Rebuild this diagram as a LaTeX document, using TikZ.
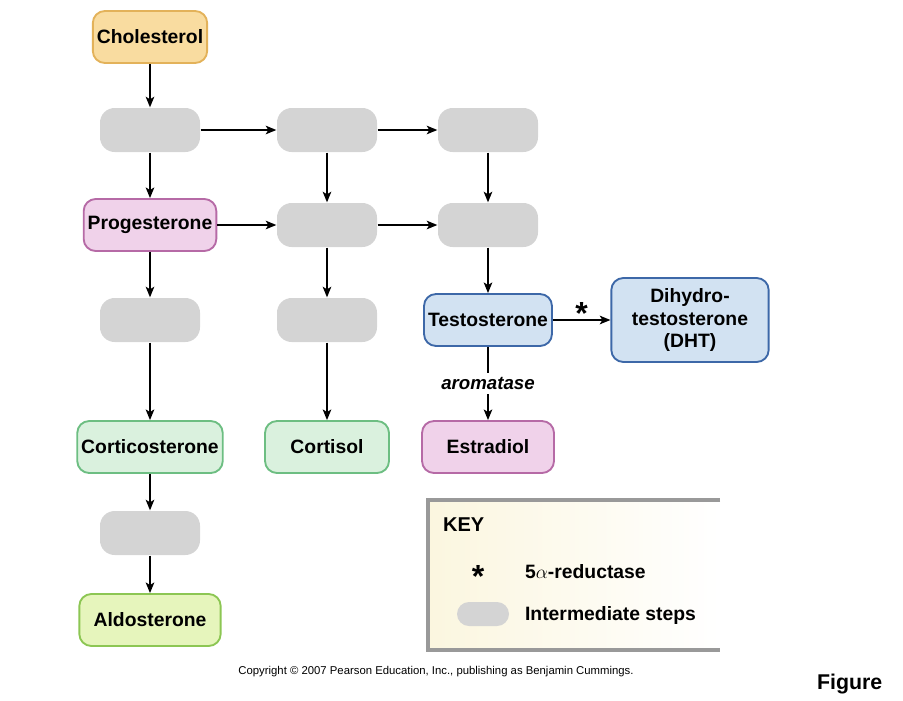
\documentclass[tikz,border=0pt]{standalone}
\usepackage{fontspec}
\setmainfont{Liberation Sans}
\usetikzlibrary{arrows.meta}
\definecolor{cholfill}{HTML}{F9DCA0}\definecolor{choldraw}{HTML}{E3B25A}
\definecolor{pinkfill}{HTML}{F0D2EA}\definecolor{pinkdraw}{HTML}{B66AA6}
\definecolor{bluefill}{HTML}{D2E2F2}\definecolor{bluedraw}{HTML}{3D68A8}
\definecolor{greenfill}{HTML}{DAF1DE}\definecolor{greendraw}{HTML}{6DBE82}
\definecolor{aldofill}{HTML}{E6F5BC}\definecolor{aldodraw}{HTML}{8CC653}
\definecolor{stepgray}{HTML}{D4D4D4}
\definecolor{keyfill}{HTML}{FBF6DF}
\begin{document}
\begin{tikzpicture}[->,>={Stealth[length=8pt,width=6.5pt,inset=2pt]},line width=1pt,x=0.75pt,y=-0.75pt,
  font=\bfseries\fontsize{14.5}{17}\selectfont]
    \tikzset{hormone/.style={draw,line width=1.4pt,rounded corners=9pt,minimum height=39pt,inner sep=3pt,text=black,align=center},
             midstep/.style={fill=stepgray,draw=none,rounded corners=11pt,minimum width=75pt,minimum height=33pt},
             bigstar/.style={font=\bfseries\fontsize{24}{24}\selectfont}}
    \useasboundingbox (0,0) rectangle (903,700);
    % key
    \shade[left color=keyfill,right color=white,draw=none] (428,500) rectangle (720,650);
    \draw[-,gray!80,line width=2.5pt] (720,500) -- (428,500) -- (428,650) -- (720,650);
    \node[anchor=west,font=\bfseries\fontsize{15}{17}\selectfont] (key) at (438,525) {KEY};
    \node[bigstar] (kstar) at (478,576) {*};
    \node[anchor=west] (kred) at (520,572) {5$\alpha$-reductase};
    \node[fill=stepgray,rounded corners=9pt,minimum width=39pt,minimum height=18pt] (kstep) at (483,614) {};
    \node[anchor=west] (kint) at (520,615) {Intermediate steps};
    % hormones
    \node[hormone,fill=cholfill,draw=choldraw] (chol) at (150,37) {Cholesterol};
    \node[midstep] (s11) at (150,130) {};
    \node[midstep] (s12) at (327,130) {};
    \node[midstep] (s13) at (488,130) {};
    \node[hormone,fill=pinkfill,draw=pinkdraw] (prog) at (150,225) {Progesterone};
    \node[midstep] (s22) at (327,225) {};
    \node[midstep] (s23) at (488,225) {};
    \node[midstep] (s31) at (150,320) {};
    \node[midstep] (s32) at (327,320) {};
    \node[hormone,fill=bluefill,draw=bluedraw] (testo) at (488,320) {Testosterone};
    \node[hormone,fill=bluefill,draw=bluedraw,minimum width=118pt,minimum height=63pt,inner sep=1pt] (dht) at (690,320) {Dihydro-\\testosterone\\(DHT)};
    \node[hormone,fill=greenfill,draw=greendraw] (cortico) at (150,447) {Corticosterone};
    \node[hormone,fill=greenfill,draw=greendraw,minimum width=93pt] (cortisol) at (327,447) {Cortisol};
    \node[hormone,fill=pinkfill,draw=pinkdraw,minimum width=99pt] (estr) at (488,447) {Estradiol};
    \node[midstep] (s51) at (150,533) {};
    \node[hormone,fill=aldofill,draw=aldodraw,minimum width=106pt] (aldo) at (150,620) {Aldosterone};
    % connectors
    \draw (chol) -- (s11);
    \draw (s11) -- (s12);
    \draw (s12) -- (s13);
    \draw (s11) -- (prog);
    \draw (s12) -- (s22);
    \draw (s13) -- (s23);
    \draw (prog) -- (s22);
    \draw (s22) -- (s23);
    \draw (prog) -- (s31);
    \draw (s22) -- (s32);
    \draw (s23) -- (testo);
    \draw (testo) -- node[bigstar,above,yshift=-7pt] {*} (dht);
    \draw (testo) -- node[fill=white,inner sep=3pt,font=\bfseries\itshape\fontsize{14}{16}\selectfont] {aromatase} (estr);
    \draw (s31) -- (cortico);
    \draw (s32) -- (cortisol);
    \draw (cortico) -- (s51);
    \draw (s51) -- (aldo);
    % footer
    \node[font=\fontsize{8.5}{10}\selectfont] (copy) at (436,672) {Copyright \textcopyright\ 2007 Pearson Education, Inc., publishing as Benjamin Cummings.};
    \node[anchor=west,font=\bfseries\fontsize{16}{18}\selectfont] (fig) at (812,684) {Figure};
\end{tikzpicture}
\end{document}
